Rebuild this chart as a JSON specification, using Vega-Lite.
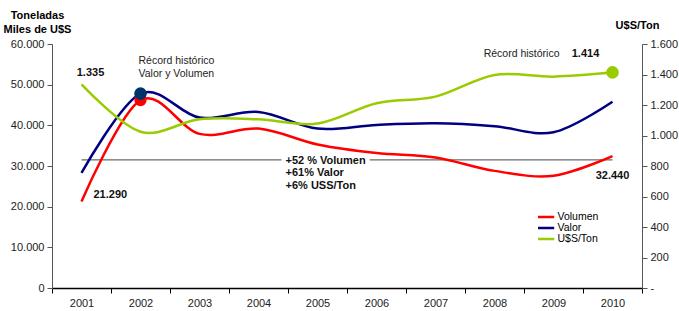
{
  "$schema": "https://vega.github.io/schema/vega-lite/v6.json",
  "width": 590,
  "height": 244,
  "autosize": "none",
  "padding": {"left": 52, "top": 44, "right": 37, "bottom": 23},
  "background": "white",
  "config": {
    "font": "Liberation Sans",
    "view": {"stroke": null},
    "axis": {"grid": false, "labelFont": "Liberation Sans", "labelFontSize": 11, "labelColor": "#222", "titleFont": "Liberation Sans", "labelOverlap": false},
    "text": {"font": "Liberation Sans", "fontSize": 11, "color": "#111"}
  },
  "datasets": {
    "series": [
      {"year": 2001, "serie": "Volumen", "value": 21290},
      {"year": 2002, "serie": "Volumen", "value": 46200},
      {"year": 2003, "serie": "Volumen", "value": 37900},
      {"year": 2004, "serie": "Volumen", "value": 39200},
      {"year": 2005, "serie": "Volumen", "value": 35300},
      {"year": 2006, "serie": "Volumen", "value": 33200},
      {"year": 2007, "serie": "Volumen", "value": 32100},
      {"year": 2008, "serie": "Volumen", "value": 28800},
      {"year": 2009, "serie": "Volumen", "value": 27600},
      {"year": 2010, "serie": "Volumen", "value": 32440},
      {"year": 2001, "serie": "Valor", "value": 28300},
      {"year": 2002, "serie": "Valor", "value": 47800},
      {"year": 2003, "serie": "Valor", "value": 41900},
      {"year": 2004, "serie": "Valor", "value": 43300},
      {"year": 2005, "serie": "Valor", "value": 39200},
      {"year": 2006, "serie": "Valor", "value": 40100},
      {"year": 2007, "serie": "Valor", "value": 40500},
      {"year": 2008, "serie": "Valor", "value": 39800},
      {"year": 2009, "serie": "Valor", "value": 38300},
      {"year": 2010, "serie": "Valor", "value": 45800},
      {"year": 2001, "serie": "U$S/Ton", "value": 1335},
      {"year": 2002, "serie": "U$S/Ton", "value": 1025},
      {"year": 2003, "serie": "U$S/Ton", "value": 1106},
      {"year": 2004, "serie": "U$S/Ton", "value": 1106},
      {"year": 2005, "serie": "U$S/Ton", "value": 1078},
      {"year": 2006, "serie": "U$S/Ton", "value": 1211},
      {"year": 2007, "serie": "U$S/Ton", "value": 1255},
      {"year": 2008, "serie": "U$S/Ton", "value": 1397},
      {"year": 2009, "serie": "U$S/Ton", "value": 1386},
      {"year": 2010, "serie": "U$S/Ton", "value": 1414}
    ]
  },
  "encoding": {
    "x": {
      "field": "year", "type": "ordinal", "bandPosition": 0.5,
      "scale": {"type": "band", "paddingInner": 0, "paddingOuter": 0},
      "axis": {"title": null, "labelAngle": 0, "tickBand": "extent", "domainColor": "#000", "tickColor": "#000", "domainWidth": 1.5, "tickSize": 5, "labelPadding": 4, "labelFontSize": 11}
    }
  },
  "layer": [
    {
      "encoding": {
        "y": {
          "field": "value", "type": "quantitative",
          "scale": {"domain": [0, 60000], "nice": false},
          "axis": {
            "orient": "left", "values": [0, 10000, 20000, 30000, 40000, 50000, 60000],
            "labelExpr": "replace(format(datum.value, ','), ',', '.')",
            "title": ["Toneladas", "Miles de U$S"], "titleAngle": 0, "titleAlign": "center", "titleX": -15, "titleY": -24,
            "titleBaseline": "bottom", "titleFontSize": 11, "titleFontWeight": "bold", "titleLineHeight": 14,
            "domainColor": "#555", "tickColor": "#555", "tickSize": 5, "labelPadding": 3, "labelOverlap": false
          }
        }
      },
      "layer": [
        {
          "data": {"values": [{"year": 2001, "value": 31500}, {"year": 2010, "value": 31500}]},
          "mark": {"type": "line", "color": "#444", "strokeWidth": 1, "interpolate": "linear"},
          "encoding": {}
        },
        {
          "data": {"name": "series"},
          "transform": [{"filter": "datum.serie != 'U$S/Ton'"}],
          "mark": {"type": "line", "interpolate": "cardinal", "strokeWidth": 2.5},
          "encoding": {
            "color": {
              "field": "serie", "type": "nominal",
              "scale": {"domain": ["Volumen", "Valor", "U$S/Ton"], "range": ["#FF0000", "#000080", "#99CC00"]},
              "legend": {"title": null, "orient": "none", "legendX": 486, "legendY": 168, "symbolType": "M-4,0H4", "symbolSize": 30, "symbolStrokeWidth": 2.5, "labelFontSize": 10.5, "labelOffset": 9, "rowPadding": -1, "clipHeight": 10, "labelFont": "Liberation Sans", "labelBaseline": "middle"}
            }
          }
        },
        {
          "data": {"name": "series"},
          "transform": [{"filter": "datum.year == 2002 && datum.serie == 'Volumen'"}],
          "mark": {"type": "point", "filled": true, "size": 150, "color": "#FF0000", "opacity": 1},
          "encoding": {}
        },
        {
          "data": {"name": "series"},
          "transform": [{"filter": "datum.year == 2002 && datum.serie == 'Valor'"}],
          "mark": {"type": "point", "filled": true, "size": 160, "color": "#003366", "opacity": 1},
          "encoding": {}
        },
        {
          "data": {"values": [{"year": 2005, "value": 31300, "label": "+52 % Volumen"}]},
          "mark": {"type": "text", "align": "left", "baseline": "middle", "dx": -32, "fontWeight": "bold", "color": "white", "stroke": "white", "strokeWidth": 9, "strokeJoin": "round"},
          "encoding": {"text": {"field": "label"}}
        },
        {
          "data": {"values": [
            {"year": 2005, "value": 31300, "label": "+52 % Volumen"},
            {"year": 2005, "value": 28300, "label": "+61% Valor"},
            {"year": 2005, "value": 25100, "label": "+6% USS/Ton"}
          ]},
          "mark": {"type": "text", "align": "left", "baseline": "middle", "dx": -32, "fontWeight": "bold"},
          "encoding": {"text": {"field": "label"}}
        },
        {
          "data": {"values": [{"year": 2001, "value": 22850, "label": "21.290"}]},
          "mark": {"type": "text", "align": "left", "baseline": "middle", "dx": 12, "fontWeight": "bold"},
          "encoding": {"text": {"field": "label"}}
        },
        {
          "data": {"values": [{"year": 2010, "value": 27500, "label": "32.440"}]},
          "mark": {"type": "text", "align": "center", "baseline": "middle", "fontWeight": "bold"},
          "encoding": {"text": {"field": "label"}}
        },
        {
          "data": {"values": [
            {"year": 2002, "value": 55700, "label": "Récord histórico"},
            {"year": 2002, "value": 52700, "label": "Valor y Volumen"}
          ]},
          "mark": {"type": "text", "align": "left", "baseline": "middle", "dx": -2, "fontSize": 10.5, "color": "#222"},
          "encoding": {"text": {"field": "label"}}
        }
      ]
    },
    {
      "encoding": {
        "y": {
          "field": "value", "type": "quantitative",
          "scale": {"domain": [0, 1600], "nice": false},
          "axis": {
            "orient": "right", "values": [0, 200, 400, 600, 800, 1000, 1200, 1400, 1600],
            "labelExpr": "datum.value == 0 ? '-' : replace(format(datum.value, ','), ',', '.')",
            "title": "U$S/Ton", "titleAngle": 0, "titleAlign": "center", "titleX": -5, "titleY": -14,
            "titleBaseline": "bottom", "titleFontSize": 11, "titleFontWeight": "bold",
            "domainColor": "#555", "tickColor": "#555", "tickSize": 5, "labelPadding": 3, "labelOverlap": false
          }
        }
      },
      "layer": [
        {
          "data": {"name": "series"},
          "transform": [{"filter": "datum.serie == 'U$S/Ton'"}],
          "mark": {"type": "line", "interpolate": "cardinal", "strokeWidth": 2.5},
          "encoding": {"color": {"field": "serie", "type": "nominal"}}
        },
        {
          "data": {"name": "series"},
          "transform": [{"filter": "datum.year == 2010 && datum.serie == 'U$S/Ton'"}],
          "mark": {"type": "point", "filled": true, "size": 160, "color": "#99CC00", "opacity": 1},
          "encoding": {}
        },
        {
          "data": {"values": [{"year": 2001, "value": 1410, "label": "1.335"}]},
          "mark": {"type": "text", "align": "center", "baseline": "middle", "dx": 9, "fontWeight": "bold"},
          "encoding": {"text": {"field": "label"}}
        },
        {
          "data": {"values": [{"year": 2010, "value": 1534, "label": "1.414"}]},
          "mark": {"type": "text", "align": "center", "baseline": "middle", "dx": -27, "fontWeight": "bold"},
          "encoding": {"text": {"field": "label"}}
        },
        {
          "data": {"values": [{"year": 2010, "value": 1534, "label": "Récord histórico"}]},
          "mark": {"type": "text", "align": "right", "baseline": "middle", "dx": -53, "fontSize": 10.5, "color": "#222"},
          "encoding": {"text": {"field": "label"}}
        }
      ]
    }
  ],
  "resolve": {"scale": {"y": "independent"}}
}
